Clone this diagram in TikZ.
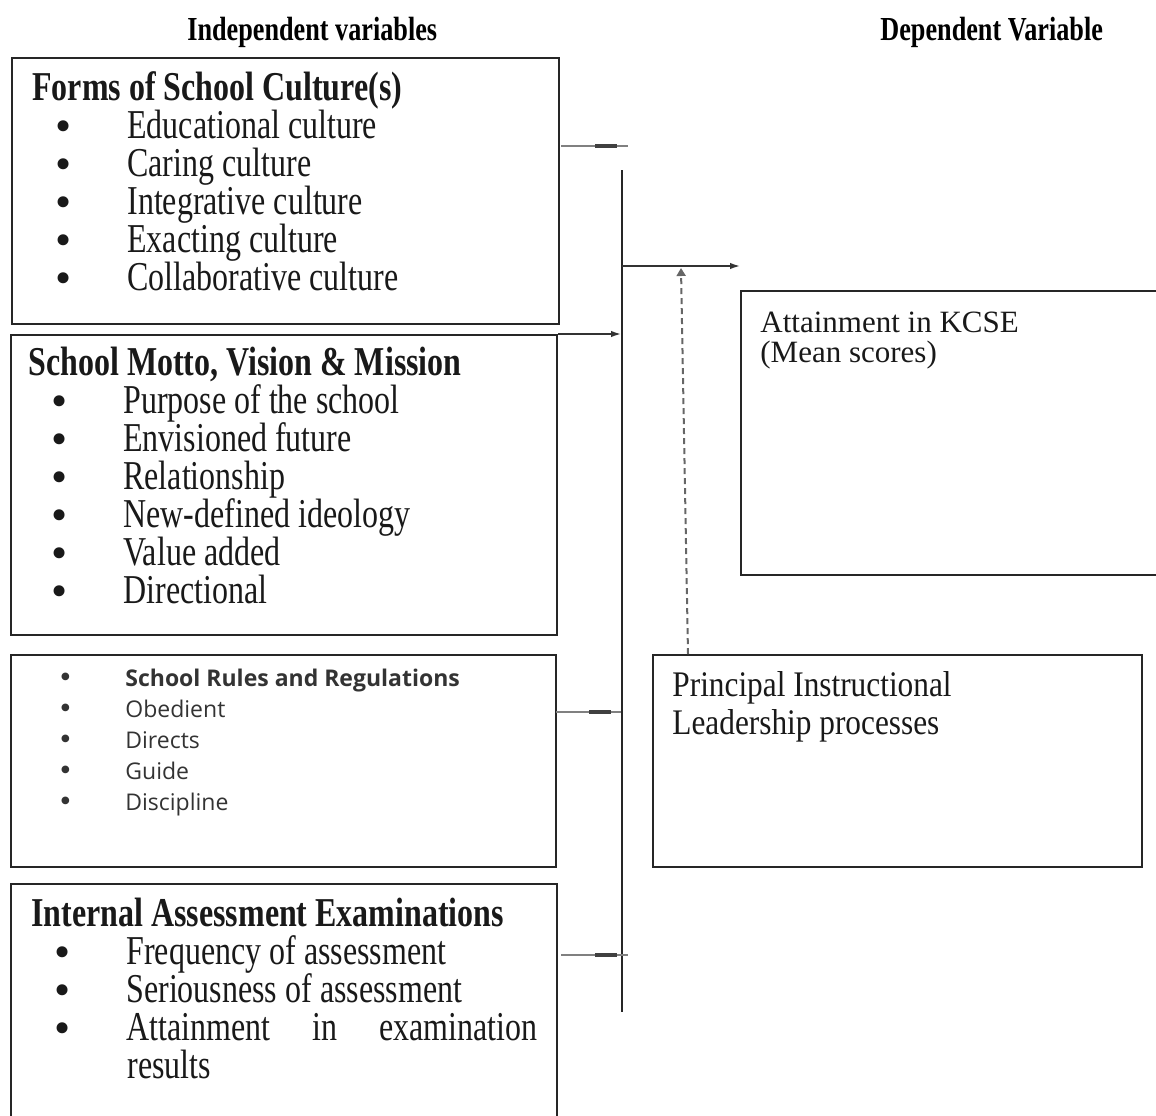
\documentclass[tikz,border=0pt]{standalone}
\usepackage{fontspec}
\setmainfont{Liberation Serif}
\newfontfamily\narrowserif[FakeStretch=0.78]{Liberation Serif}
\newfontfamily\midserif[FakeStretch=0.87]{Liberation Serif}
\newfontfamily\rulesfont{Open Sans}
\usetikzlibrary{arrows.meta,positioning,decorations.markings}

% bullet in front of a list line
\newcommand{\itm}{\hspace*{10.5pt}\makebox[10pt]{\smash{\raisebox{-1.6pt}{\rmfamily\fontsize{23}{19}\selectfont\textbullet}}}\hspace{27pt}}
\newcommand{\ritm}{\hspace*{3pt}\makebox[10pt]{\smash{\raisebox{-0.8pt}{\rmfamily\fontsize{16}{15}\selectfont\textbullet}}}\hspace{25pt}}

\begin{document}
\begin{tikzpicture}[
  x=0.5pt,y=-0.5pt,
  varbox/.style={draw=black!85,line width=1pt,inner sep=0pt,anchor=north west},
  vartitle/.style={anchor=base west,inner sep=0pt,
                   font=\narrowserif\bfseries\fontsize{16.8}{18}\selectfont},
  itemlist/.style={anchor=base west,inner sep=0pt,align=left,text=black!90,
                   font=\narrowserif\fontsize{20.5}{19}\selectfont},
  bar/.style={line width=0.9pt,black!85},
  flow/.style={line width=1.2pt,black!80,-{Latex[length=5.5pt,width=3.2pt]}},
  moderator/.style={line width=1pt,black!60,dash pattern=on 3pt off 2pt,
                    -{Triangle[length=4pt,width=4.5pt]}},
  stub/.style={line width=0.9pt,black!50,postaction={decorate},
               decoration={markings,mark=at position 0.67 with
                 {\fill[black!75] (-5.5pt,-0.9pt) rectangle (5.5pt,0.9pt);}}}
]
\useasboundingbox (0,0) rectangle (1156,1115);

% column titles
\node[vartitle] (indep) at (187,40) {Independent variables};
\node[vartitle] (dep) at (880,40) {Dependent Variable};

% independent variable boxes (list nodes sit on their last baseline)
\node[varbox,minimum width=273.5pt,minimum height=133pt] (culture) at (11,57) {};
\node[itemlist] (culturetext) at (32,290) {\textbf{Forms of School Culture(s)}\\
  \itm Educational culture\\
  \itm Caring culture\\
  \itm Integrative culture\\
  \itm Exacting culture\\
  \itm Collaborative culture};

\node[varbox,minimum width=273pt,minimum height=150pt] (motto) at (10,334) {};
\node[itemlist] (mottotext) at (28,603) {\textbf{School Motto, Vision \& Mission}\\
  \itm Purpose of the school\\
  \itm Envisioned future\\
  \itm Relationship\\
  \itm New-defined ideology\\
  \itm Value added\\
  \itm Directional};

\node[varbox,minimum width=272.5pt,minimum height=106pt] (rules) at (10,654) {};
\node[itemlist,font=\rulesfont\fontsize{11.5}{15.5}\selectfont,text=black!80]
  (rulestext) at (49,810) {\ritm\textbf{School Rules and Regulations}\\
  \ritm Obedient\\
  \ritm Directs\\
  \ritm Guide\\
  \ritm Discipline};

\node[varbox,minimum width=273pt,minimum height=121pt] (exams) at (10,883) {};
\node[itemlist] (examstext) at (31,1078) {\textbf{Internal Assessment Examinations}\\
  \itm Frequency of assessment\\
  \itm Seriousness of assessment\\
  \itm\makebox[205.5pt][s]{Attainment\hfill in\hfill examination}\\
  \hspace*{48pt}results};

% dependent and intervening boxes
\node[varbox,minimum width=211pt,minimum height=142pt] (attain) at (740,290) {};
\node[itemlist,font=\fontsize{15.5}{15}\selectfont] (attaintext) at (760,362)
  {Attainment in KCSE\\(Mean scores)};

\node[varbox,minimum width=244.5pt,minimum height=106pt] (principal) at (652,654) {};
\node[itemlist,font=\midserif\fontsize{18}{19}\selectfont] (principaltext) at (672,734)
  {Principal Instructional\\Leadership processes};

% connectors
\coordinate (bartop) at (622,170);
\coordinate (barbot) at (622,1012);
\coordinate (hub) at (622,266);
\coordinate (hubend) at (741,266);
\coordinate (leadtop) at (681,268);
\coordinate (c1) at (561,146);
\coordinate (c1e) at (628,146);
\coordinate (r1) at (556,712);
\coordinate (r1e) at (621,712);
\coordinate (e1) at (561,955);
\coordinate (e1e) at (628,955);

\draw[bar] (bartop) -- (barbot);
\draw[flow] (hub) -- (hubend);
\draw[flow] (motto.north east) -- (bartop |- motto.north east);
\draw[stub] (c1) -- (c1e);
\draw[stub] (r1) -- (r1e);
\draw[stub] (e1) -- (e1e);
\draw[moderator] ([xshift=18pt]principal.north west) -- (leadtop);
\end{tikzpicture}
\end{document}
